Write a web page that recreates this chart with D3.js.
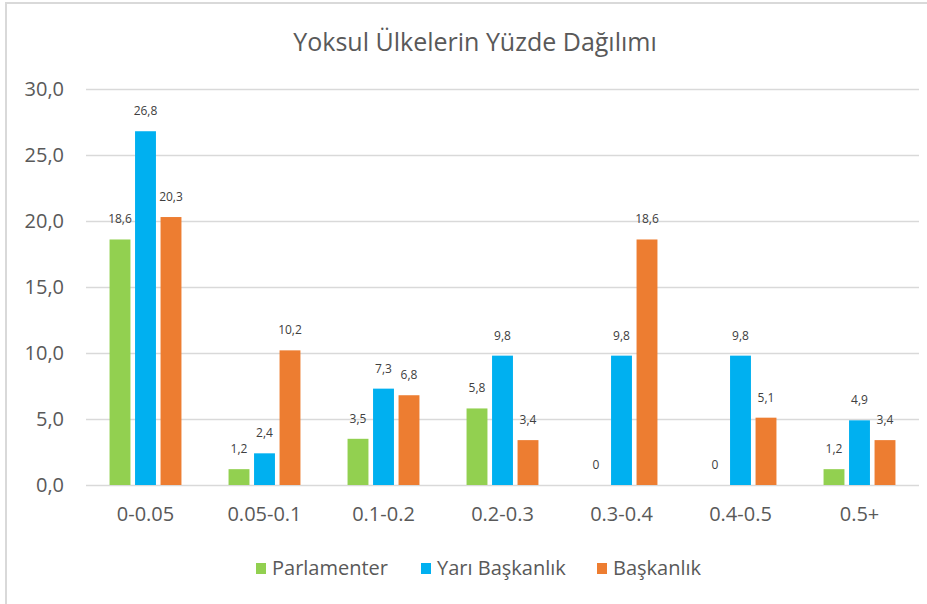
<!DOCTYPE html>
<html>
<head>
<meta charset="utf-8">
<script src="https://cdn.jsdelivr.net/npm/d3@7"></script>
<style>
  body { margin: 0; background: #fff; }
  text { font-family: "Open Sans", "DejaVu Sans", sans-serif; }
</style>
</head>
<body>
<svg id="chart" width="927" height="604"></svg>
<script>
var categories = ['0-0.05', '0.05-0.1', '0.1-0.2', '0.2-0.3', '0.3-0.4', '0.4-0.5', '0.5+'];
var seriesNames = ['Parlamenter', 'Yarı Başkanlık', 'Başkanlık'];
var parlamenter = [18.6, 1.2, 3.5, 5.8, 0, 0, 1.2];
var yariBaskanlik = [26.8, 2.4, 7.3, 9.8, 9.8, 9.8, 4.9];
var baskanlik = [20.3, 10.2, 6.8, 3.4, 18.6, 5.1, 3.4];
var yTicks = [0, 5, 10, 15, 20, 25, 30];
var colors = ['#92D050', '#00B0F0', '#ED7D31'];

var values = [parlamenter, yariBaskanlik, baskanlik];
var rows = [];
categories.forEach(function(c, i) {
  seriesNames.forEach(function(s, j) {
    rows.push({cat: c, series: s, value: values[j][i], color: colors[j]});
  });
});

var svg = d3.select('#chart');
var fmt = function(v) { return v.toFixed(1).replace('.', ','); };
var lbl = function(v) { return v === 0 ? '0' : String(v).replace('.', ','); };

// chart border
svg.append('path')
  .attr('d', 'M6,604V3H927')
  .attr('fill', 'none')
  .attr('stroke', '#d9d9d9')
  .attr('stroke-width', 2);

var x0 = d3.scaleBand().domain(categories).range([86, 919]);
var x1 = d3.scaleBand().domain(seriesNames)
  .range([-38.25, 38.25])
  .paddingInner(0.18)
  .paddingOuter(0.09);
var y = d3.scaleLinear().domain([0, 30]).range([485, 89]);

// gridlines
svg.append('g')
  .selectAll('line')
  .data(yTicks)
  .join('line')
  .attr('x1', 86).attr('x2', 919)
  .attr('y1', function(d) { return Math.round(y(d)) + 0.5; })
  .attr('y2', function(d) { return Math.round(y(d)) + 0.5; })
  .attr('stroke', '#d9d9d9')
  .attr('stroke-width', 1.3);

// y axis labels
var yAxis = d3.axisLeft(y).tickValues(yTicks).tickFormat(fmt).tickSize(0).tickPadding(22);
var yg = svg.append('g').attr('transform', 'translate(86,0)').call(yAxis);
yg.select('.domain').remove();
yg.selectAll('text')
  .attr('fill', '#595959')
  .style('font-size', '20px')
  .style('font-family', '"Open Sans", sans-serif');

// bars
svg.append('g')
  .selectAll('rect')
  .data(rows)
  .join('rect')
  .attr('x', function(d) { return x0(d.cat) + x0.bandwidth() / 2 + x1(d.series); })
  .attr('y', function(d) { return y(d.value); })
  .attr('width', x1.bandwidth())
  .attr('height', function(d) { return y(0) - y(d.value); })
  .attr('fill', function(d) { return d.color; });

// data labels
svg.append('g')
  .selectAll('text')
  .data(rows)
  .join('text')
  .attr('x', function(d) { return x0(d.cat) + x0.bandwidth() / 2 + x1(d.series) + x1.bandwidth() / 2; })
  .attr('y', function(d) { return y(d.value) - 16; })
  .attr('text-anchor', 'middle')
  .attr('fill', '#404040')
  .style('font-size', '12px')
  .text(function(d) { return lbl(d.value); });

// x axis labels
var xAxis = d3.axisBottom(x0).tickSize(0).tickPadding(22);
var xg = svg.append('g').attr('transform', 'translate(0,485)').call(xAxis);
xg.select('.domain').remove();
xg.selectAll('text')
  .attr('fill', '#595959')
  .style('font-size', '20px')
  .style('font-family', '"Open Sans", sans-serif');

// title
svg.append('text')
  .attr('x', 475)
  .attr('y', 51)
  .attr('text-anchor', 'middle')
  .attr('fill', '#595959')
  .style('font-size', '25px')
  .text('Yoksul Ülkelerin Yüzde Dağılımı');

// legend
var legendX = [256, 421, 597];
var legend = svg.append('g')
  .selectAll('g')
  .data(seriesNames)
  .join('g')
  .attr('transform', function(d, i) { return 'translate(' + legendX[i] + ',568)'; });
legend.append('rect')
  .attr('x', 0).attr('y', -5)
  .attr('width', 10).attr('height', 11)
  .attr('fill', function(d, i) { return colors[i]; });
legend.append('text')
  .attr('x', 16)
  .attr('y', 7)
  .attr('fill', '#595959')
  .style('font-size', '20px')
  .text(function(d) { return d; });
</script>
</body>
</html>
